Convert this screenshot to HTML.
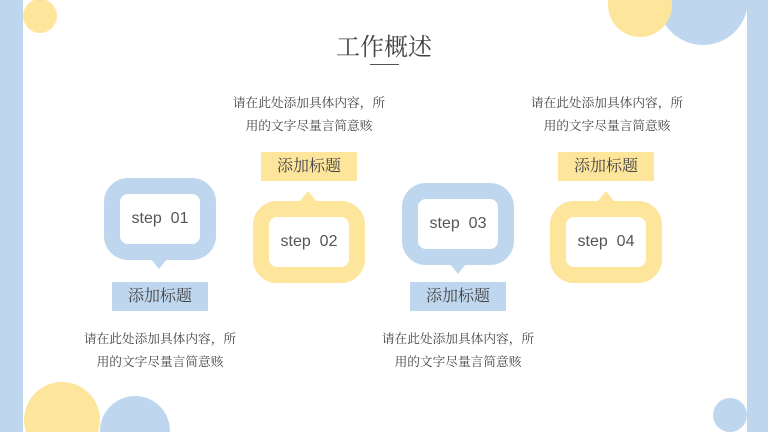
<!DOCTYPE html>
<html><head><meta charset="utf-8"><style>
html,body{margin:0;padding:0;width:768px;height:432px;overflow:hidden;background:#fff}
#w{position:relative;width:768px;height:432px;overflow:hidden;font-family:"Liberation Serif","Noto Serif CJK SC",serif;color:#444}
#w div,#w svg{position:absolute}
.box{width:80px;height:50px;border-width:16px;border-style:solid;border-radius:24px;background:#fff;text-align:center;line-height:50px;font-family:"Liberation Sans","Noto Sans CJK SC",sans-serif;font-size:16px;color:#555}
.b{border-color:#bfd7ee}.y{border-color:#fde59c}
.lab{width:96px;height:29px;line-height:29px;text-align:center;font-size:16px;color:#444}
.t{width:200px;text-align:center;font-size:12.7px;line-height:23px;color:#444}
.tri{width:0;height:0;border-left:8px solid transparent;border-right:8px solid transparent}
</style></head><body><div id="w">
<svg width="768" height="432" style="left:0;top:0">
<rect x="0" y="0" width="23" height="432" fill="#bfd7ee"/>
<circle cx="40" cy="16" r="17" fill="#fde59c"/>
<circle cx="703" cy="0" r="45" fill="#bfd7ee"/>
<circle cx="640" cy="5" r="32" fill="#fde59c"/>
<rect x="747" y="0" width="21" height="432" fill="#bfd7ee"/>
<circle cx="62" cy="420" r="38" fill="#fde59c"/>
<circle cx="135" cy="431" r="35" fill="#bfd7ee"/>
<circle cx="730" cy="415" r="17" fill="#bfd7ee"/>
</svg>
<div style="left:284px;top:27px;width:200px;text-align:center;font-size:24px;color:#444">工作概述</div>
<div style="left:370px;top:64px;width:29px;height:1px;background:#555"></div>

<div class="t" style="left:209px;top:92px">请在此处添加具体内容，所<br>用的文字尽量言简意赅</div>
<div class="t" style="left:507px;top:92px">请在此处添加具体内容，所<br>用的文字尽量言简意赅</div>
<div class="t" style="left:60px;top:328px">请在此处添加具体内容，所<br>用的文字尽量言简意赅</div>
<div class="t" style="left:358px;top:328px">请在此处添加具体内容，所<br>用的文字尽量言简意赅</div>

<div class="tri" style="left:151px;top:259px;border-top:10px solid #bfd7ee"></div>
<div class="box b" style="left:104px;top:178px">step&nbsp; 01</div>
<div class="lab" style="left:112px;top:282px;background:#bfd7ee">添加标题</div>

<div class="tri" style="left:300px;top:191px;border-bottom:10px solid #fde59c"></div>
<div class="box y" style="left:253px;top:201px">step&nbsp; 02</div>
<div class="lab" style="left:261px;top:152px;background:#fde59c">添加标题</div>

<div class="tri" style="left:450px;top:264px;border-top:10px solid #bfd7ee"></div>
<div class="box b" style="left:402px;top:183px">step&nbsp; 03</div>
<div class="lab" style="left:410px;top:282px;background:#bfd7ee">添加标题</div>

<div class="tri" style="left:598px;top:191px;border-bottom:10px solid #fde59c"></div>
<div class="box y" style="left:550px;top:201px">step&nbsp; 04</div>
<div class="lab" style="left:558px;top:152px;background:#fde59c">添加标题</div>
</div></body></html>
